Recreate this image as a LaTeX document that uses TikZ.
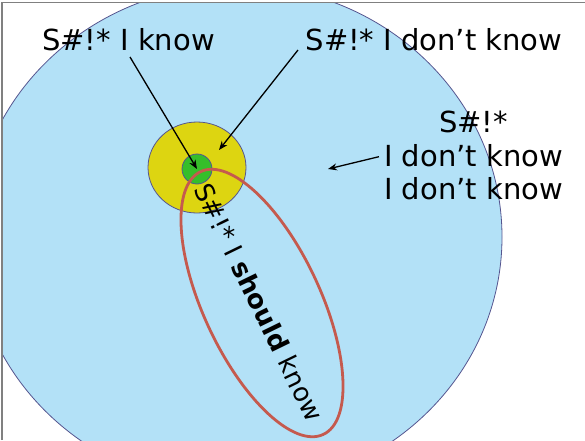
\documentclass[tikz,border=0pt]{standalone}
\usepackage{fontspec}
\setmainfont{DejaVu Sans}
\usetikzlibrary{shapes.geometric,arrows.meta}
\definecolor{skyfill}{HTML}{B3E1F7}
\definecolor{edgeblue}{HTML}{55558F}
\definecolor{yelfill}{HTML}{DDD511}
\definecolor{grnfill}{HTML}{36BE2A}
\definecolor{redline}{HTML}{C55A4E}
\definecolor{framegray}{HTML}{808080}
\tikzset{
  blob/.style={ellipse, draw=edgeblue, line width=0.8pt, inner sep=0pt},
  lbl/.style={font=\fontsize{29}{34}\selectfont, inner sep=0pt, anchor=base},
  pointer/.style={draw=black, line width=1.3pt, -{Stealth[length=9pt,width=7pt]}}
}
\begin{document}
\begin{tikzpicture}[x=1pt,y=-1pt]
\useasboundingbox (0,0) rectangle (585,440);
\begin{scope}
  \clip (2,2.5) rectangle (585,440);
  \node[blob, fill=skyfill, minimum width=530pt, minimum height=504pt] (big) at (237,237) {};
\end{scope}
\draw[framegray, line width=1.2pt] (2,440) -- (2,2.5) -- (585,2.5);
\node[blob, fill=yelfill, minimum width=98pt, minimum height=91pt] (yel) at (197,167.5) {};
\node[blob, fill=grnfill, minimum width=30pt, minimum height=30pt] (grn) at (197,169) {};
\node[ellipse, draw=redline, line width=2.8pt, inner sep=0pt, minimum width=290pt, minimum height=117pt, rotate=-65] (red) at (262,303) {};
\node[lbl] (t1) at (128.5,50) {S\#!* I know};
\node[lbl] (t2) at (434,50) {S\#!* I don’t know};
\node[lbl] (r1) at (473.5,132) {S\#!*};
\node[lbl] (r2) at (473.5,166.5) {I don’t know};
\node[lbl] (r3) at (473.5,199.5) {I don’t know};
\node[font=\fontsize{26}{30}\selectfont, inner sep=0pt, rotate=-64] (sk) at (259,302) {S\#!* I \textbf{should} know};
\coordinate (s1) at (130,57);
\coordinate (s2) at (298,50);
\coordinate (e2) at (219,150);
\coordinate (e3) at (328,169);
\draw[pointer] (s1) -- (grn.center);
\draw[pointer] (s2) -- (e2);
\draw[pointer] ([xshift=-5pt,yshift=-1pt]r2.west) -- (e3);
\end{tikzpicture}
\end{document}
